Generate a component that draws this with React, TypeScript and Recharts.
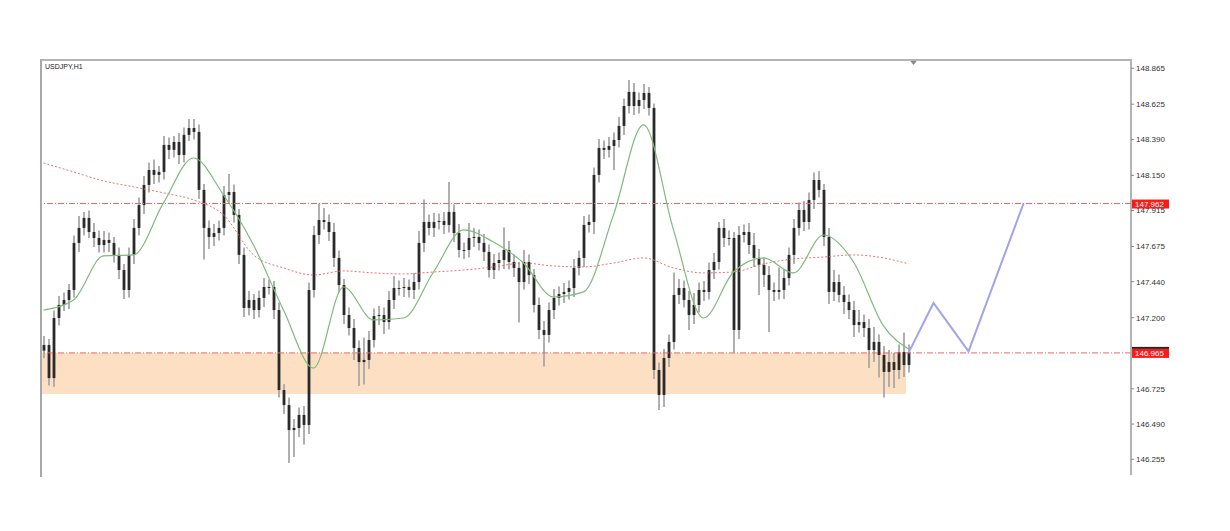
import {
  Bar,
  ComposedChart,
  Line,
  ReferenceArea,
  ReferenceDot,
  ReferenceLine,
  XAxis,
  YAxis,
} from "recharts";

// H1 closes (open = previous close)
const closes = [
  147.018, 146.797, 147.198, 147.285, 147.318, 147.385, 147.699, 147.799, 147.866, 147.772, 147.732, 147.685,
  147.719, 147.699, 147.619, 147.518, 147.385, 147.619, 147.799, 147.952, 148.086, 148.186, 148.153, 148.173,
  148.353, 148.32, 148.373, 148.286, 148.42, 148.466, 148.44, 148.053, 147.799, 147.739, 147.765, 147.799,
  148.019, 148.039, 147.886, 147.619, 147.265, 147.318, 147.251, 147.332, 147.405, 147.405, 147.251, 146.717,
  146.617, 146.45, 146.464, 146.551, 146.484, 147.385, 147.752, 147.852, 147.839, 147.772, 147.599, 147.418,
  147.218, 147.131, 146.998, 146.904, 146.918, 147.051, 147.211, 147.218, 147.171, 147.318, 147.398, 147.398,
  147.405, 147.385, 147.438, 147.699, 147.839, 147.799, 147.839, 147.846, 147.819, 147.906, 147.765, 147.652,
  147.652, 147.732, 147.739, 147.699, 147.639, 147.518, 147.565, 147.585, 147.652, 147.572, 147.532, 147.438,
  147.572, 147.485, 147.285, 147.118, 147.085, 147.251, 147.332, 147.358, 147.372, 147.398, 147.532, 147.599,
  147.819, 147.839, 148.153, 148.333, 148.32, 148.346, 148.386, 148.48, 148.613, 148.707, 148.613, 148.653,
  148.7, 148.6, 146.851, 146.684, 146.931, 147.038, 147.352, 147.398, 147.318, 147.218, 147.285, 147.385,
  147.372, 147.518, 147.572, 147.799, 147.732, 147.732, 147.118, 147.752, 147.772, 147.685, 147.599, 147.552,
  147.485, 147.385, 147.372, 147.385, 147.465, 147.619, 147.799, 147.919, 147.839, 147.986, 148.119, 148.053,
  147.739, 147.372, 147.438, 147.352, 147.305, 147.251, 147.151, 147.171, 147.131, 146.984, 147.038, 146.951,
  146.838, 146.904, 146.851, 146.971, 146.884, 146.971,
];
const firstOpen = 146.98;

// wick lengths in pips (0.01)
const upWick = [
  6, 4, 5, 6, 5, 4, 5, 8, 4, 5, 6, 5,
  6, 5, 4, 5, 4, 5, 6, 5, 6, 5, 7, 4,
  6, 5, 4, 6, 5, 6, 6, 5, 4, 5, 6, 5,
  6, 12, 5, 4, 5, 6, 4, 5, 6, 5, 4, 5,
  4, 5, 6, 5, 6, 5, 6, 11, 8, 5, 6, 5,
  4, 5, 6, 5, 15, 6, 5, 6, 5, 6, 8, 5,
  6, 5, 6, 8, 15, 5, 6, 5, 6, 20, 5, 6,
  5, 10, 6, 5, 6, 5, 6, 5, 15, 6, 5, 4,
  8, 5, 4, 5, 6, 5, 6, 5, 6, 5, 6, 5,
  6, 5, 5, 6, 5, 6, 5, 6, 5, 8, 6, 5,
  6, 4, 3, 5, 6, 5, 15, 6, 5, 6, 8, 5,
  6, 5, 6, 4, 6, 5, 4, 6, 5, 6, 8, 6,
  5, 6, 5, 15, 6, 5, 6, 5, 6, 5, 5, 6,
  4, 6, 8, 5, 6, 5, 6, 8, 5, 6, 10, 5,
  6, 8, 6, 5, 13, 5,
];
const downWick = [
  5, 5, 6, 5, 4, 6, 5, 6, 5, 4, 6, 5,
  5, 6, 5, 6, 6, 5, 6, 5, 6, 5, 6, 5,
  5, 6, 5, 6, 5, 4, 5, 6, 21, 8, 6, 5,
  5, 6, 5, 6, 6, 5, 6, 5, 6, 5, 6, 5,
  6, 22, 18, 6, 13, 6, 5, 6, 5, 6, 6, 5,
  6, 5, 8, 16, 15, 6, 5, 6, 8, 5, 6, 5,
  6, 5, 6, 5, 6, 5, 6, 5, 6, 5, 6, 5,
  6, 5, 6, 5, 6, 5, 6, 5, 6, 5, 6, 27,
  5, 6, 5, 6, 21, 5, 6, 5, 6, 5, 6, 5,
  6, 5, 8, 5, 6, 5, 16, 5, 6, 5, 6, 5,
  6, 5, 6, 10, 8, 6, 5, 6, 5, 10, 6, 5,
  6, 5, 6, 5, 6, 5, 15, 6, 5, 6, 6, 20,
  8, 28, 6, 5, 6, 5, 6, 5, 6, 5, 6, 5,
  6, 8, 6, 5, 8, 6, 8, 5, 6, 12, 8, 15,
  17, 10, 12, 6, 8, 5,
];

// moving averages, read every 6th bar
const maIndex = [0, 6, 12, 18, 24, 30, 36, 42, 48, 54, 60, 66, 72, 78, 84, 90, 96, 102, 108, 114, 120, 126, 132, 138, 144, 150, 156, 162, 168, 173];
const fastMa = [
  147.251, 147.318, 147.612, 147.619, 147.966, 148.266, 148.019, 147.685, 147.251, 146.864,
  147.405, 147.185, 147.198, 147.505, 147.786, 147.705, 147.565, 147.338, 147.372, 147.886,
  148.487, 147.786, 147.198, 147.505, 147.599, 147.499, 147.752, 147.572, 147.145, 146.991,
];
const slowMa = [
  148.233, 148.173, 148.113, 148.073, 148.033, 147.986, 147.886, 147.619, 147.532, 147.485,
  147.512, 147.499, 147.492, 147.505, 147.518, 147.539, 147.565, 147.545, 147.539, 147.565,
  147.599, 147.532, 147.499, 147.505, 147.559, 147.592, 147.605, 147.619, 147.599, 147.559,
];

// drawn projection path
const projIndex = [173, 178, 185, 196];
const projPrice = [146.965, 147.298, 146.975, 147.962];

const yTicks = [146.255, 146.49, 146.725, 147.2, 147.44, 147.675, 147.915, 148.15, 148.39, 148.625, 148.865];
const resistance = 147.962;
const support = 146.965;
const zoneLow = 146.69;
const SLOTS = 218;

const rows: any[] = Array.from({ length: SLOTS }, (_, i) => {
  const row: any = { i };
  if (i < closes.length) {
    const open = i === 0 ? firstOpen : closes[i - 1];
    const close = closes[i];
    const high = Math.max(open, close) + upWick[i] / 100;
    const low = Math.min(open, close) - downWick[i] / 100;
    row.open = open;
    row.close = close;
    row.high = high;
    row.low = low;
    row.range = [low, high];
  }
  return row;
});
maIndex.forEach((idx, k) => {
  rows[idx].fast = fastMa[k];
  rows[idx].slow = slowMa[k];
});
projIndex.forEach((idx, k) => {
  rows[idx].proj = projPrice[k];
});

const Candle = (props: any) => {
  const { x, y, width, height, payload } = props;
  if (!payload || payload.open == null) return null;
  const { open, close, high, low } = payload;
  const top = Math.min(y, y + height);
  const h = Math.abs(height);
  const per = h / (high - low);
  const yOpen = top + (high - open) * per;
  const yClose = top + (high - close) * per;
  const cx = x + width / 2;
  const bTop = Math.min(yOpen, yClose);
  const bH = Math.max(1, Math.abs(yClose - yOpen));
  return (
    <g>
      <line x1={cx} x2={cx} y1={top} y2={top + h} stroke="#a8a8a8" strokeWidth={1.8} />
      <rect x={cx - 1.4} y={bTop} width={2.8} height={bH} fill="#2a2a2a" />
    </g>
  );
};

const priceTag = (value: number, withBar: boolean) => (props: any) => {
  const { viewBox } = props;
  const tx = viewBox.x + viewBox.width + 1;
  const ty = viewBox.y;
  return (
    <g>
      {withBar && <rect x={tx} y={ty - 6} width={37} height={2} fill="#222" />}
      <rect x={tx} y={ty - 4} width={37} height={9} fill="#ff1a1a" />
      <text x={tx + 3} y={ty + 3.5} fontSize={8} fill="#fff" fontFamily="Liberation Sans, Arial, sans-serif">
        {value.toFixed(3)}
      </text>
    </g>
  );
};

const Shift = (props: any) => {
  const { cx } = props;
  return <polygon points={`${cx - 4},60 ${cx + 4},60 ${cx},65`} fill="#8a8a8a" />;
};

const App = () => {
  return (
    <div style={{ position: "absolute", left: 0, top: 0, width: 1230, height: 531, background: "#fff" }}>
      <ComposedChart
        width={1230}
        height={531}
        data={rows}
        margin={{ top: 60, right: 29, bottom: 56, left: 41 }}
      >
        <XAxis dataKey="i" type="category" hide />
        <YAxis
          orientation="right"
          width={70}
          domain={[146.15, 148.92]}
          ticks={yTicks}
          allowDataOverflow
          tickFormatter={(v: number) => v.toFixed(3)}
          tick={{ fontSize: 8, fill: "#333", fontFamily: "Liberation Sans, Arial, sans-serif", textAnchor: "start" }}
          tickSize={3}
          tickMargin={2}
          tickLine={{ stroke: "#888" }}
          axisLine={{ stroke: "#9a9a9a", strokeWidth: 1.5 }}
        />
        <ReferenceArea x1={0} x2={172} y1={zoneLow} y2={support} fill="#fddfc3" fillOpacity={1} stroke="none" />
        <ReferenceLine
          y={resistance}
          stroke="#e66a6a"
          strokeDasharray="6 2 1 2"
          strokeWidth={1}
          label={priceTag(resistance, false)}
        />
        <ReferenceLine
          y={support}
          stroke="#e66a6a"
          strokeDasharray="6 2 1 2"
          strokeWidth={1}
          label={priceTag(support, true)}
        />
        <Line
          dataKey="slow"
          type="monotone"
          stroke="#ef7070"
          strokeWidth={1}
          strokeDasharray="2 2"
          dot={false}
          activeDot={false}
          connectNulls
          isAnimationActive={false}
        />
        <Bar dataKey="range" barSize={4} shape={Candle} isAnimationActive={false} />
        <Line
          dataKey="fast"
          type="monotone"
          stroke="#7dbb7d"
          strokeWidth={1.2}
          dot={false}
          activeDot={false}
          connectNulls
          isAnimationActive={false}
        />
        <Line
          dataKey="proj"
          type="linear"
          stroke="#a3a3e6"
          strokeWidth={2}
          dot={false}
          activeDot={false}
          connectNulls
          isAnimationActive={false}
        />
        <ReferenceDot x={174} y={148.92} r={0} ifOverflow="visible" shape={Shift} />
      </ComposedChart>
      <div
        style={{
          position: "absolute",
          left: 40,
          top: 59,
          width: 1090,
          height: 416,
          borderTop: "2px solid #b5b5b5",
          borderLeft: "2px solid #a8a8a8",
          pointerEvents: "none",
        }}
      />
      <div
        style={{
          position: "absolute",
          left: 45,
          top: 63,
          fontSize: 7,
          fontFamily: "Liberation Sans, Arial, sans-serif",
          color: "#222",
        }}
      >
        USDJPY,H1
      </div>
    </div>
  );
};

export default App;
